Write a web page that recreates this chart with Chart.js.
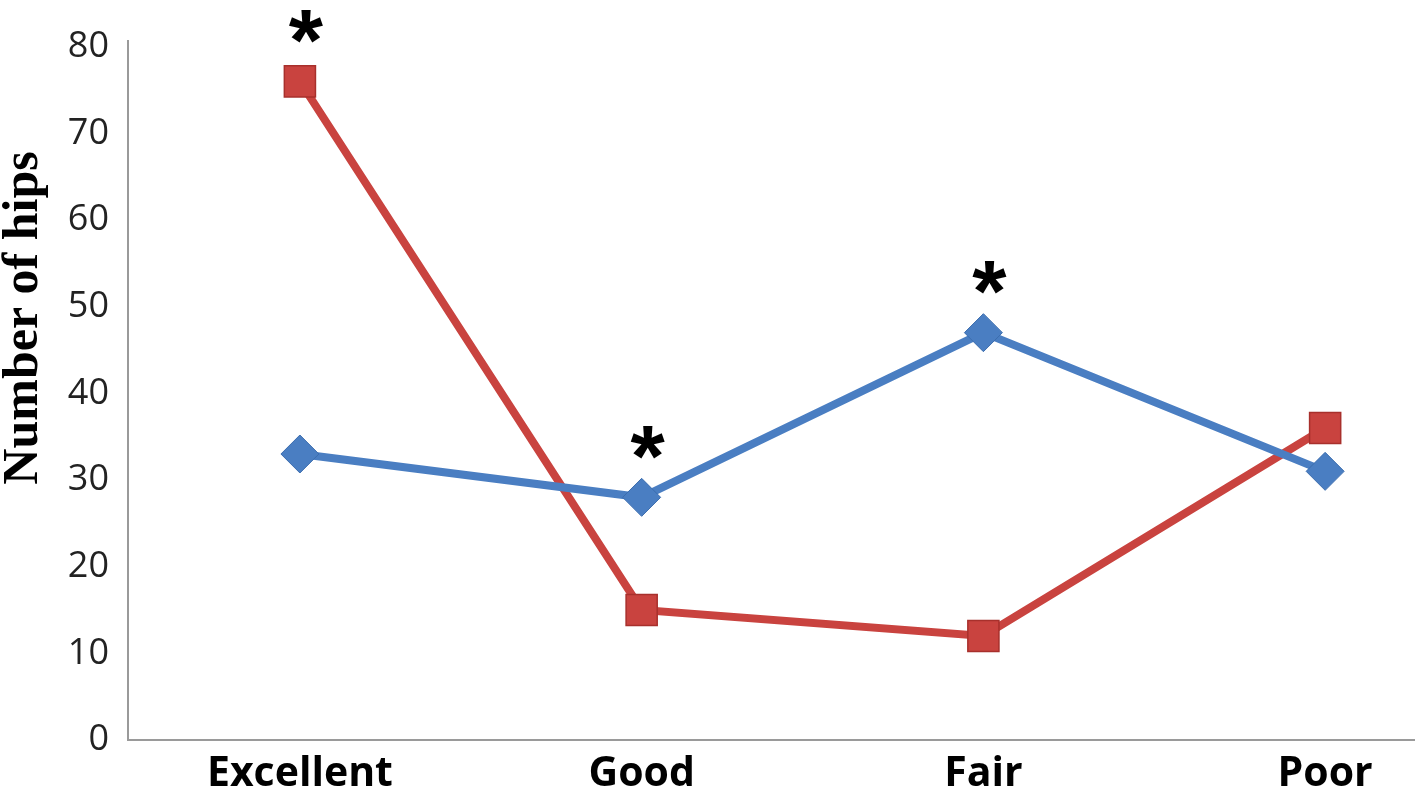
<!DOCTYPE html>
<html>
<head>
<meta charset="utf-8">
<script src="https://cdn.jsdelivr.net/npm/chart.js@4"></script>
<style>
  html, body { margin: 0; background: #fff; overflow: hidden; }
  #wrap { width: 1416px; height: 793px; position: relative; }
  canvas { display: block; }
</style>
</head>
<body>
<div id="wrap"><canvas id="myChart"></canvas></div>
<script>
// categories and values
let categories = ['Excellent', 'Good', 'Fair', 'Poor']
let blueValues = [33, 28, 47, 31]
let redValues = [76, 15, 12, 36]
let yTicks = [0, 10, 20, 30, 40, 50, 60, 70, 80]
// asterisks: which dataset (0 blue, 1 red) at which category
let stars = [[1, 0], [0, 1], [0, 2]]

function toPoints(values) {
    return values.map(function(v, i) { return { x: i, y: v } })
}

let blue = '#4A7EC2'
let red = '#C9433F'

// y axis title and asterisks
let extras = {
    id: 'extras',
    afterDatasetsDraw: function(chart) {
        let ctx = chart.ctx
        ctx.save()
        ctx.fillStyle = '#000'
        ctx.font = 'bold 88px "Liberation Sans"'
        ctx.textAlign = 'center'
        ctx.textBaseline = 'alphabetic'
        stars.forEach(function(s) {
            let pt = chart.getDatasetMeta(s[0]).data[s[1]]
            let m = ctx.measureText('*')
            let off = (m.actualBoundingBoxAscent - m.actualBoundingBoxDescent) / 2
            ctx.fillText('*', pt.x + 6, pt.y - 55 + off)
        })
        ctx.translate(37, 318)
        ctx.rotate(-Math.PI / 2)
        ctx.font = 'bold 50px "Liberation Serif"'
        ctx.fillText('Number of hips', 0, 0)
        ctx.restore()
    }
}

let ctx = document.getElementById('myChart').getContext('2d')
let chart = new Chart(ctx, {
    type: 'line',
    data: {
        datasets: [{
            label: 'blue',
            data: toPoints(blueValues),
            borderColor: blue,
            backgroundColor: blue,
            borderWidth: 8,
            pointStyle: 'rectRot',
            pointRadius: 19,
            pointBorderWidth: 1,
            pointBorderColor: '#3C6DAE'
        }, {
            label: 'red',
            data: toPoints(redValues),
            borderColor: red,
            backgroundColor: red,
            borderWidth: 8,
            pointStyle: 'rect',
            pointRadius: 22,
            pointBorderWidth: 1.5,
            pointBorderColor: '#A8302C'
        }]
    },
    options: {
        responsive: true,
        maintainAspectRatio: false,
        animation: false,
        layout: { autoPadding: false, padding: { top: 38, right: 2, left: 0, bottom: 0 } },
        plugins: { legend: { display: false }, tooltip: { enabled: false } },
        scales: {
            x: {
                type: 'linear',
                min: -0.503,
                max: 3.26,
                afterBuildTicks: function(axis) {
                    axis.ticks = categories.map(function(c, i) { return { value: i } })
                },
                afterFit: function(axis) {
                    axis.height = 53
                    axis.paddingRight = 0
                    axis.paddingLeft = 0
                },
                grid: { display: false, drawTicks: false },
                border: { color: '#9a9a9a', width: 2 },
                ticks: {
                    padding: 10,
                    color: '#000',
                    font: { family: 'Open Sans', size: 41, weight: 'bold' },
                    callback: function(v) { return categories[v] }
                }
            },
            y: {
                min: 0,
                max: 80.7,
                afterBuildTicks: function(axis) {
                    axis.ticks = yTicks.map(function(v) { return { value: v } })
                },
                afterFit: function(axis) { axis.width = 128 },
                grid: { display: false, drawTicks: false },
                border: { color: '#9a9a9a', width: 2 },
                ticks: {
                    padding: 19,
                    color: '#222',
                    font: { family: 'Open Sans', size: 36 }
                }
            }
        }
    },
    plugins: [extras]
})
</script>
</body>
</html>
